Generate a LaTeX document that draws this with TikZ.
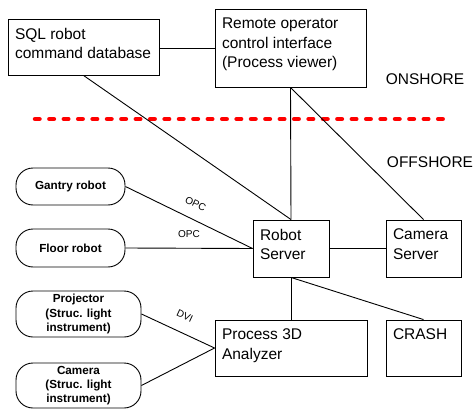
\documentclass[tikz,border=0pt]{standalone}
\usepackage{fontspec}
\setmainfont{Liberation Sans}
\usetikzlibrary{positioning}

\begin{document}
\begin{tikzpicture}[
    x=1pt, y=-1pt,
    line width=0.9pt,
    every node/.style={font=\fontsize{15.5}{19.5}\selectfont},
    box/.style 2 args={draw, inner xsep=7pt, inner ysep=9pt,
        execute at begin node={\begin{minipage}[t][#2][t]{#1}\raggedright},
        execute at end node={\end{minipage}}},
    device/.style={draw, rounded corners=17pt, align=center, inner sep=0pt,
        font=\fontsize{11.7}{14.3}\selectfont\bfseries},
    protocol/.style={font=\fontsize{10}{12}\selectfont, sloped}
]

\useasboundingbox (0,0) rectangle (474,412);

% ------------------------------------------------------------
% Onshore side
% ------------------------------------------------------------

\node[box={137pt}{38pt}] (sql)    at (83.5,47)  {SQL robot\\command database};
\node[box={137pt}{60pt}] (remote) at (290.5,48) {Remote operator\\control interface\\(Process viewer)};

\node (onshore)  at (425,79)    {ONSHORE};
\node (offshore) at (430,161.7) {OFFSHORE};

% shore border
\coordinate (B0) at (35,119);
\coordinate (B1) at (452,119);
\draw[red, line width=4.5pt, line cap=round, dash pattern=on 4.5pt off 9.9pt] (B0) -- (B1);

% ------------------------------------------------------------
% Offshore side
% ------------------------------------------------------------

\node[box={62pt}{39pt}]  (robot)   at (291,248.5)   {Robot\\Server};
\node[box={61pt}{39pt}]  (camserv) at (423.5,248.5) {Camera\\Server};
\node[box={138pt}{38pt}] (analyzer) at (291,348)    {Process 3D\\Analyzer};
\node[box={61pt}{38pt}]  (crash)   at (423.5,348)   {CRASH};

% robots and instruments
\node[device, minimum width=109pt, minimum height=37pt] (gantry)    at (70.5,186.5) {Gantry robot};
\node[device, minimum width=109pt, minimum height=38pt] (floor)     at (70.5,248)   {Floor robot};
\node[device, minimum width=125pt, minimum height=46pt] (projector) at (78.5,314)   {Projector\\(Struc. light\\instrument)};
\node[device, minimum width=125pt, minimum height=45pt] (camera)    at (78.5,385.5) {Camera\\(Struc. light\\instrument)};

% ------------------------------------------------------------
% Connections
% ------------------------------------------------------------

\draw (sql.east |- remote.west) -- (remote.west);
\draw (sql.south) -- (robot.north);
\draw (remote.south) -- (robot.north);
\draw (remote.south) -- (camserv.north);

\draw (gantry.east) -- (robot.west) node[protocol, pos=.5, above=8pt] (opc1) {OPC};
\draw (floor.east) -- (robot.west) node[protocol, pos=.5, above=7pt] (opc2) {OPC};
\draw (robot.east) -- (camserv.west);
\draw (robot.south) -- (analyzer.north);
\draw (robot.south) -- (crash.north);

\draw (projector.east) -- (analyzer.west) node[protocol, pos=.5, above=9pt] (dvi) {DVI};
\draw (camera.east) -- (analyzer.west);

\end{tikzpicture}
\end{document}
